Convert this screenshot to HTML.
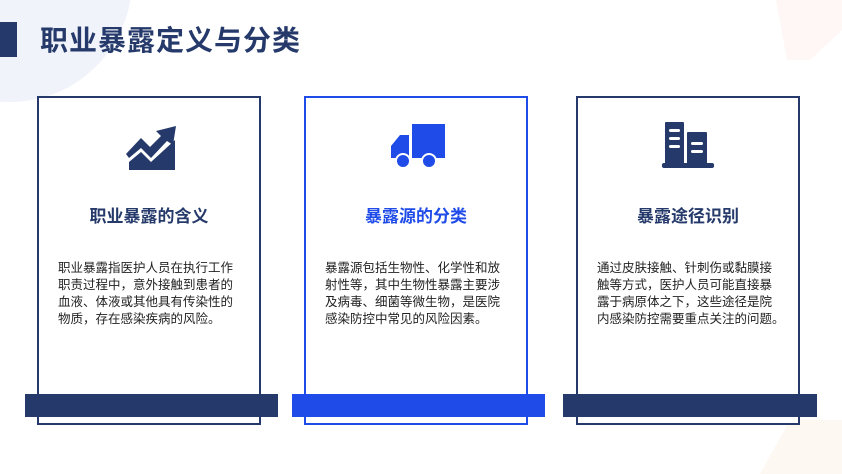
<!DOCTYPE html>
<html><head><meta charset="utf-8"><style>
*{margin:0;padding:0;box-sizing:border-box}
body{width:842px;height:474px;overflow:hidden;background:#fff;position:relative;font-family:"Liberation Sans","Noto Sans CJK SC",sans-serif}
.abs{position:absolute}
.card{position:absolute;top:96px;width:224px;height:329px;border:2px solid #253a6b;background:#fff}
.bar{position:absolute;top:394px;height:23px;background:#253a6b}
.h{position:absolute;top:202px;width:224px;text-align:center;font-size:17px;font-weight:bold;color:#253a6b}
.t{position:absolute;top:260px;width:192px;font-size:12.5px;line-height:17px;color:#222;letter-spacing:0}
</style></head><body>
<svg class="abs" style="left:0;top:0" width="842" height="474">
<circle cx="10" cy="-20" r="122" fill="#f1f3fb"/>
<polygon points="776,0 842,0 842,30 810,60 787,60" fill="#fff7f6"/>
<polygon points="760,474 790,420 842,420 842,474" fill="#fdf8f2"/>
</svg>
<div class="abs" style="left:0;top:22px;width:17px;height:35px;background:#253a6b"></div>
<div class="abs" style="left:40px;top:19px;font-size:28px;font-weight:bold;color:#253a6b;letter-spacing:1px">职业暴露定义与分类</div>

<div class="card" style="left:37px"></div>
<div class="card" style="left:304px;border-color:#1f4be8"></div>
<div class="card" style="left:576px"></div>

<svg class="abs" style="left:125px;top:122px" width="54" height="50"><path d="M16 16 L25 25 L36 14 L31 9 L51 4 L48 23 L42 19 L26 36 L16 26 L4 36 L1 32 Z" fill="#253a6b"/><path d="M4 40 L16 30 L26 40 L50 18 L50 48 L4 48 Z" fill="#253a6b"/></svg>
<svg class="abs" style="left:390px;top:124px" width="58" height="46"><rect x="22" y="0" width="33" height="34" fill="#1f4be8"/><path d="M1 22 L10 11 L19 11 L19 34 L1 34 Z" fill="#1f4be8"/><circle cx="13" cy="37" r="7" fill="#1f4be8" stroke="#fff" stroke-width="2"/><circle cx="39" cy="37" r="7" fill="#1f4be8" stroke="#fff" stroke-width="2"/></svg>
<svg class="abs" style="left:660px;top:120px" width="56" height="50"><rect x="5" y="2" width="19" height="44" rx="1" fill="#253a6b"/><rect x="27" y="12" width="20" height="34" rx="1" fill="#253a6b"/><rect x="2" y="43" width="52" height="5" rx="2" fill="#253a6b"/><rect x="9" y="9" width="11" height="3" rx="1.5" fill="#fff"/><rect x="9" y="17" width="11" height="3" rx="1.5" fill="#fff"/><rect x="9" y="25" width="11" height="3" rx="1.5" fill="#fff"/><rect x="31" y="22" width="12" height="3" rx="1.5" fill="#fff"/><rect x="31" y="30" width="12" height="3" rx="1.5" fill="#fff"/></svg>

<div class="h" style="left:37px">职业暴露的含义</div>
<div class="h" style="left:304px;color:#1f4be8">暴露源的分类</div>
<div class="h" style="left:576px">暴露途径识别</div>

<div class="t" style="left:58px">职业暴露指医护人员在执行工作<br>职责过程中，意外接触到患者的<br>血液、体液或其他具有传染性的<br>物质，存在感染疾病的风险。</div>
<div class="t" style="left:325px">暴露源包括生物性、化学性和放<br>射性等，其中生物性暴露主要涉<br>及病毒、细菌等微生物，是医院<br>感染防控中常见的风险因素。</div>
<div class="t" style="left:597px;width:200px">通过皮肤接触、针刺伤或黏膜接<br>触等方式，医护人员可能直接暴<br>露于病原体之下，这些途径是院<br>内感染防控需要重点关注的问题。</div>

<div class="bar" style="left:25px;width:253px"></div>
<div class="bar" style="left:292px;width:253px;background:#1f4be8"></div>
<div class="bar" style="left:563px;width:254px"></div>
</body></html>
